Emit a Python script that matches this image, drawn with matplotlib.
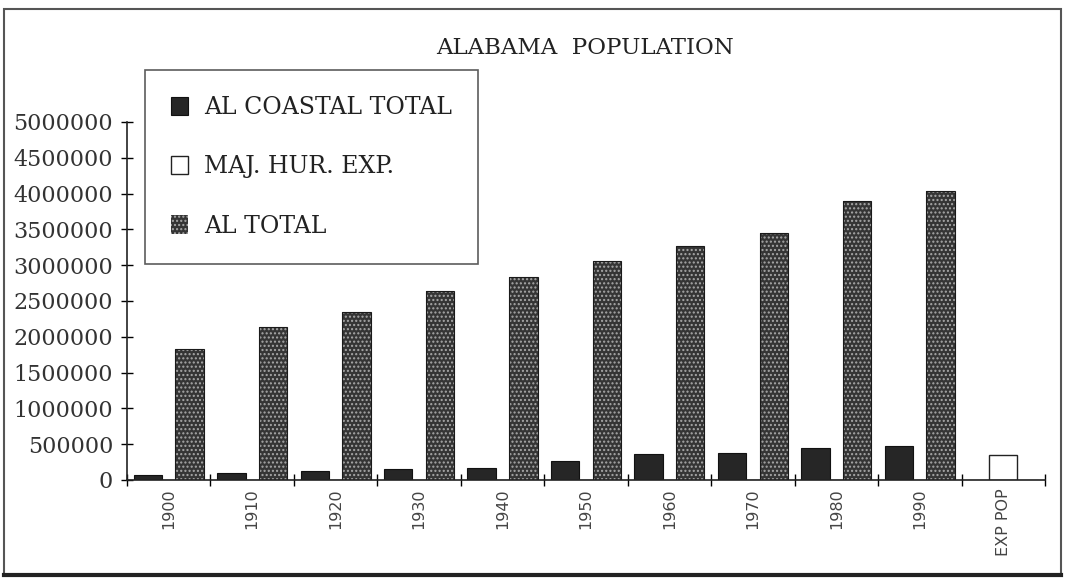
import matplotlib.pyplot as plt
import matplotlib.patches as mpatches
import numpy as np

# categories and values
categories = ['1900', '1910', '1920', '1930', '1940', '1950',
              '1960', '1970', '1980', '1990', 'EXP POP']
coastal_total = [76000, 99000, 121000, 147000, 174000, 272000,
                 363000, 377000, 444000, 477000, 0]
hur_exp = [0, 0, 0, 0, 0, 0, 0, 0, 0, 0, 355000]
al_total = [1828697, 2138093, 2348174, 2646248, 2832961, 3061743,
            3266740, 3444165, 3893888, 4040587, 0]
y_ticks = np.arange(0, 5000001, 500000)

fig = plt.figure(figsize=(10.7, 5.82), dpi=100)
fig.patch.set_facecolor('white')
ax = fig.add_axes([0.1187, 0.1753, 0.8579, 0.6151])

x = np.arange(len(categories))
w = 0.34

b1 = ax.bar(x - 0.25, coastal_total, w, color='#262626', edgecolor='#111111', lw=0.8,
            label='AL COASTAL TOTAL')
b2 = ax.bar(x, hur_exp, w, color='white', edgecolor='#222222', lw=1.0,
            label='MAJ. HUR. EXP.')
b3 = ax.bar(x + 0.25, al_total, w, color='#353535', edgecolor='#a8a8a8', lw=0,
            hatch='....', label='AL TOTAL')
ax.bar(x + 0.25, al_total, w, fill=False, edgecolor='#1a1a1a', lw=0.8)

ax.set_xlim(-0.5, len(categories) - 0.5)
ax.set_ylim(0, 5000000)
ax.set_yticks(y_ticks)
ax.set_yticklabels([str(v) for v in y_ticks], fontfamily='DejaVu Serif',
                   fontsize=16, color='#333333')

# group boundary ticks, labels at centres
ax.set_xticks(np.arange(len(categories) + 1) - 0.5)
ax.set_xticklabels([])
ax.set_xticks(x, minor=True)
ax.set_xticklabels(categories, minor=True, rotation=90, fontsize=11.5,
                   fontfamily='DejaVu Sans', color='#444444', va='top')
ax.tick_params(axis='x', which='minor', length=0, pad=6)
ax.tick_params(axis='x', which='major', direction='inout', length=9, width=1.0)
ax.tick_params(axis='y', direction='inout', length=8, width=1.0, pad=6)

for s in ['top', 'right']:
    ax.spines[s].set_visible(False)
for s in ['left', 'bottom']:
    ax.spines[s].set_linewidth(1.2)
    ax.spines[s].set_color('#222222')

fig.text(0.547, 0.917, 'ALABAMA  POPULATION', ha='center', va='center',
         fontfamily='DejaVu Serif', fontsize=16.5, color='#222222')

leg = fig.legend(handles=[b1, b2, b3], loc='upper left',
                 bbox_to_anchor=(0.1355, 0.8797), prop={'family': 'DejaVu Serif', 'size': 17},
                 frameon=True, fancybox=False, edgecolor='#333333',
                 handlelength=0.72, handleheight=0.8, handletextpad=0.7,
                 labelspacing=1.54, borderpad=1.1, borderaxespad=0)
leg.get_frame().set_linewidth(1.2)
for t in leg.get_texts():
    t.set_color('#222222')

# outer frame of the scanned chart
fig.add_artist(mpatches.Rectangle((0.004, 0.012), 0.988, 0.972, transform=fig.transFigure,
                                  fill=False, edgecolor='#555555', lw=1.5))
fig.add_artist(plt.Line2D([0.004, 0.992], [0.012, 0.012], transform=fig.transFigure,
                          color='#222222', lw=3))

fig.savefig('out.png', dpi=100)
